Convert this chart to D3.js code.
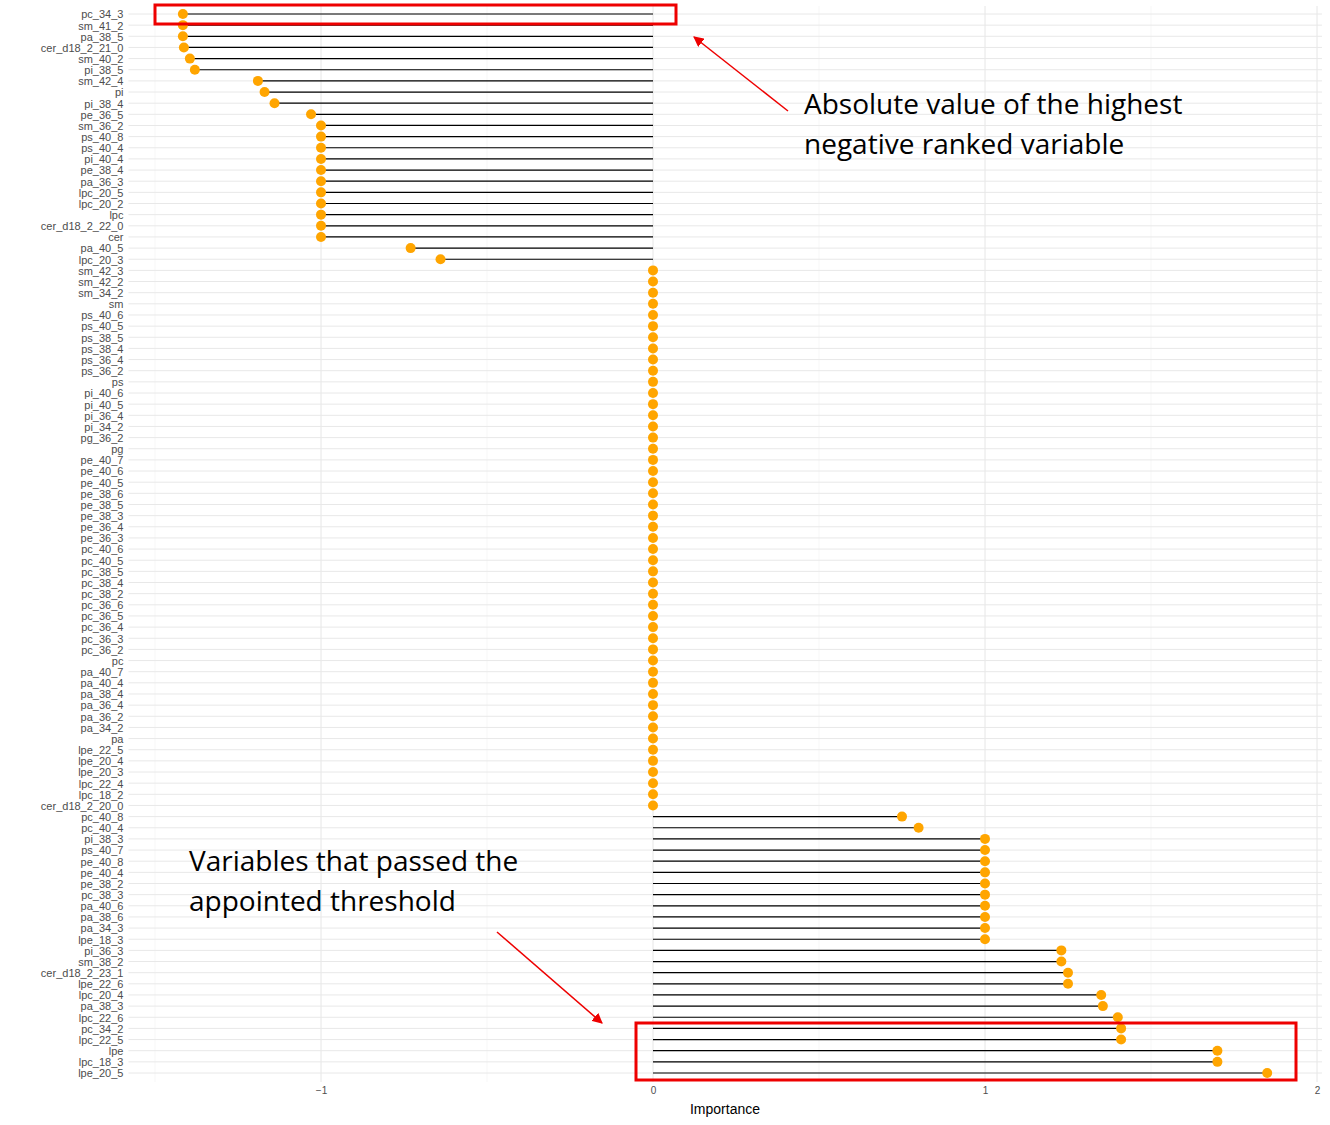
<!DOCTYPE html>
<html><head><meta charset="utf-8">
<script src="https://cdn.jsdelivr.net/npm/d3@7"></script>
<style>body{margin:0;background:#fff}</style>
</head><body><div id="chart"></div>
<script>
// Variables from top to bottom
const variables = ["pc_34_3","sm_41_2","pa_38_5","cer_d18_2_21_0","sm_40_2","pi_38_5","sm_42_4","pi","pi_38_4","pe_36_5",
 "sm_36_2","ps_40_8","ps_40_4","pi_40_4","pe_38_4","pa_36_3","lpc_20_5","lpc_20_2","lpc","cer_d18_2_22_0",
 "cer","pa_40_5","lpc_20_3","sm_42_3","sm_42_2","sm_34_2","sm","ps_40_6","ps_40_5","ps_38_5",
 "ps_38_4","ps_36_4","ps_36_2","ps","pi_40_6","pi_40_5","pi_36_4","pi_34_2","pg_36_2","pg",
 "pe_40_7","pe_40_6","pe_40_5","pe_38_6","pe_38_5","pe_38_3","pe_36_4","pe_36_3","pc_40_6","pc_40_5",
 "pc_38_5","pc_38_4","pc_38_2","pc_36_6","pc_36_5","pc_36_4","pc_36_3","pc_36_2","pc","pa_40_7",
 "pa_40_4","pa_38_4","pa_36_4","pa_36_2","pa_34_2","pa","lpe_22_5","lpe_20_4","lpe_20_3","lpc_22_4",
 "lpc_18_2","cer_d18_2_20_0","pc_40_8","pc_40_4","pi_38_3","ps_40_7","pe_40_8","pe_40_4","pe_38_2","pc_38_3",
 "pa_40_6","pa_38_6","pa_34_3","lpe_18_3","pi_36_3","sm_38_2","cer_d18_2_23_1","lpe_22_6","lpc_20_4","pa_38_3",
 "lpc_22_6","pc_34_2","lpc_22_5","lpe","lpc_18_3","lpe_20_5"];
const negValues = [-1.416,-1.416,-1.416,-1.413,-1.395,-1.38,-1.19,-1.17,-1.14,-1.03,
 -1,-1,-1,-1,-1,-1,-1,-1,-1,-1,-1,-0.73,-0.64];
const zeroCount = 49;
const posValues = [0.75,0.80,1,1,1,1,1,1,1,1,1,1,1.23,1.23,1.25,1.25,1.35,1.355,1.40,1.41,1.41,1.70,1.70,1.85];
const importance = negValues.concat(Array(zeroCount).fill(0), posValues);
const xTicks = [-1, 0, 1, 2];
const gridMinor = [-1.5, -0.5, 0.5, 1.5];

const W = 1330, H = 1125;
const svg = d3.select("#chart").append("svg").attr("width", W).attr("height", H)
  .style("font-family", "Liberation Sans, Arial, sans-serif");

const x = d3.scaleLinear().domain([-1, 2]).range([321, 1317]);
const y = d3.scalePoint().domain(variables).range([14, 1073]);
const left = x(-1.58), right = x(2.015);

// grid
svg.append("g").selectAll("line").data(gridMinor).join("line")
  .attr("x1", d => x(d)).attr("x2", d => x(d)).attr("y1", 6).attr("y2", 1082)
  .attr("stroke", "#f2f2f2").attr("stroke-width", 0.6);
svg.append("g").selectAll("line").data(xTicks).join("line")
  .attr("x1", d => x(d)).attr("x2", d => x(d)).attr("y1", 6).attr("y2", 1082)
  .attr("stroke", "#e6e6e6").attr("stroke-width", 1);
svg.append("g").selectAll("line").data(variables).join("line")
  .attr("x1", left).attr("x2", right).attr("y1", d => y(d)).attr("y2", d => y(d))
  .attr("stroke", "#e8e8e8").attr("stroke-width", 1);

// axes
const ax = svg.append("g").attr("transform", "translate(0,1082)")
  .call(d3.axisBottom(x).tickValues(xTicks).tickFormat(d3.format("d")).tickSize(0).tickPadding(5));
ax.select(".domain").remove();
ax.selectAll("text").attr("fill", "#4d4d4d").attr("font-size", 10);
const ay = svg.append("g").attr("transform", `translate(${left - 4},0)`)
  .call(d3.axisLeft(y).tickSize(0).tickPadding(1));
ay.select(".domain").remove();
ay.selectAll("text").attr("fill", "#4d4d4d").attr("font-size", 11).attr("dy", "0.35em");

// lollipops
svg.append("g").selectAll("line").data(variables).join("line")
  .attr("x1", x(0)).attr("x2", (d, i) => x(importance[i]))
  .attr("y1", d => y(d)).attr("y2", d => y(d))
  .attr("stroke", "#000").attr("stroke-width", 1.2);
svg.append("g").selectAll("circle").data(variables).join("circle")
  .attr("cx", (d, i) => x(importance[i])).attr("cy", d => y(d)).attr("r", 5)
  .attr("fill", "#ffa500");

svg.append("text").attr("x", 725).attr("y", 1114).attr("text-anchor", "middle")
  .attr("font-size", 14).text("Importance");

// annotations
svg.append("rect").attr("x", 155).attr("y", 5).attr("width", 521).attr("height", 19)
  .attr("fill", "none").attr("stroke", "#e00").attr("stroke-width", 3);
svg.append("rect").attr("x", 636).attr("y", 1023).attr("width", 660).attr("height", 57)
  .attr("fill", "none").attr("stroke", "#e00").attr("stroke-width", 3);
const defs = svg.append("defs");
defs.append("marker").attr("id", "ah").attr("viewBox", "0 0 10 10").attr("refX", 9).attr("refY", 5)
  .attr("markerWidth", 7).attr("markerHeight", 7).attr("orient", "auto")
  .append("path").attr("d", "M0,0L10,5L0,10z").attr("fill", "#e00");
svg.append("line").attr("x1", 788).attr("y1", 111).attr("x2", 694).attr("y2", 37)
  .attr("stroke", "#e00").attr("stroke-width", 1.5).attr("marker-end", "url(#ah)");
svg.append("line").attr("x1", 497).attr("y1", 932).attr("x2", 602).attr("y2", 1023)
  .attr("stroke", "#e00").attr("stroke-width", 1.5).attr("marker-end", "url(#ah)");
const note = (lines, x0, y0) => lines.forEach((t, i) =>
  svg.append("text").attr("x", x0).attr("y", y0 + i * 40).attr("font-size", 28)
    .attr("font-family", "Open Sans, Noto Sans, sans-serif").text(t));
note(["Absolute value of the highest", "negative ranked variable"], 804, 114);
note(["Variables that passed the", "appointed threshold"], 189, 871);
</script></body></html>
